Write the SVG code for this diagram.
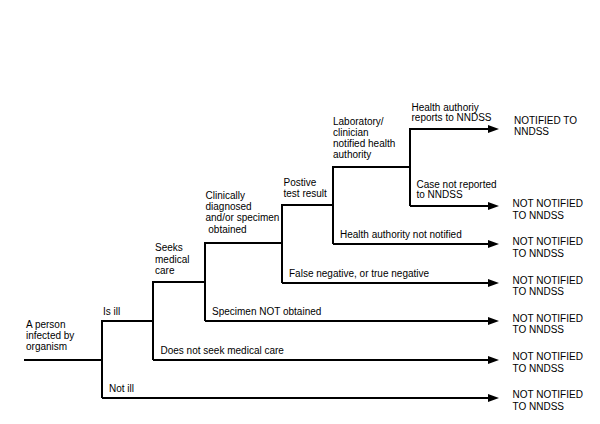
<svg xmlns="http://www.w3.org/2000/svg" width="600" height="424" viewBox="0 0 600 424">
<style>
text{font-family:"Liberation Sans",Arial,sans-serif;font-size:10px;fill:#000}
.c{fill:none;stroke:#000;stroke-width:2;stroke-linejoin:miter;stroke-linecap:butt}
</style>
<defs>
<marker id="ah" markerUnits="userSpaceOnUse" markerWidth="12" markerHeight="10" viewBox="0 0 12 10" refX="1" refY="5" orient="auto">
<path d="M0,1 L11,5 L0,9 z" fill="#000"/>
</marker>
</defs>
<rect width="600" height="424" fill="#fff"/>
<g id="connectors">
<path class="c" d="M24,360 H103"/>
<path class="c" d="M102,398 V321 H154"/>
<path class="c" d="M102,398 H489" marker-end="url(#ah)"/>
<path class="c" d="M153,360 V282 H206"/>
<path class="c" d="M153,360 H489" marker-end="url(#ah)"/>
<path class="c" d="M205,321 V243 H283"/>
<path class="c" d="M205,321 H489" marker-end="url(#ah)"/>
<path class="c" d="M282,283 V205 H334"/>
<path class="c" d="M282,283 H489" marker-end="url(#ah)"/>
<path class="c" d="M333,244 V167 H411"/>
<path class="c" d="M333,244 H489" marker-end="url(#ah)"/>
<path class="c" d="M410,206 V129 H489" marker-end="url(#ah)"/>
<path class="c" d="M410,206 H489" marker-end="url(#ah)"/>
</g>
<g id="n-person"><text x="26" y="327.5">A person<tspan x="26" dy="11">infected by</tspan><tspan x="26" dy="11">organism</tspan></text></g>
<g id="n-isill"><text x="103" y="314.5">Is ill</text></g>
<g id="n-notill"><text x="109" y="391.5">Not ill</text></g>
<g id="n-seeks"><text x="155" y="251">Seeks<tspan x="155" dy="11.5">medical</tspan><tspan x="155" dy="11.5">care</tspan></text></g>
<g id="n-noseek"><text x="160.5" y="353.5">Does not seek medical care</text></g>
<g id="n-clin"><text x="205.5" y="199">Clinically<tspan x="205.5" dy="11.2">diagnosed</tspan><tspan x="205.5" dy="11.2">and/or specimen</tspan><tspan x="205.5" dy="11.2"> obtained</tspan></text></g>
<g id="n-specnot"><text x="212" y="315">Specimen NOT obtained</text></g>
<g id="n-pos"><text x="283.5" y="186">Postive<tspan x="283.5" dy="11">test result</tspan></text></g>
<g id="n-falseneg"><text x="289" y="276.5">False negative, or true negative</text></g>
<g id="n-lab"><text x="333" y="125">Laboratory/<tspan x="333" dy="11">clinician</tspan><tspan x="333" dy="11">notified health</tspan><tspan x="333" dy="11">authority</tspan></text></g>
<g id="n-hanot"><text x="340" y="237.5">Health authority not notified</text></g>
<g id="n-hareports"><text x="411.5" y="110.5">Health authoriy<tspan x="411.5" dy="10.7">reports to NNDSS</tspan></text></g>
<g id="n-casenot"><text x="416.5" y="187.5">Case not reported<tspan x="416.5" dy="10.5">to NNDSS</tspan></text></g>
<g id="o1"><text x="514" y="123.5">NOTIFIED TO<tspan x="514" dy="11">NNDSS</tspan></text></g>
<g id="o2"><text x="512.5" y="207">NOT NOTIFIED<tspan x="512.5" dy="11.5">TO NNDSS</tspan></text></g>
<g id="o3"><text x="512.5" y="245">NOT NOTIFIED<tspan x="512.5" dy="12">TO NNDSS</tspan></text></g>
<g id="o4"><text x="512.5" y="283.5">NOT NOTIFIED<tspan x="512.5" dy="11.7">TO NNDSS</tspan></text></g>
<g id="o5"><text x="512.5" y="321.7">NOT NOTIFIED<tspan x="512.5" dy="11.7">TO NNDSS</tspan></text></g>
<g id="o6"><text x="512.5" y="360">NOT NOTIFIED<tspan x="512.5" dy="11.7">TO NNDSS</tspan></text></g>
<g id="o7"><text x="512.5" y="398.3">NOT NOTIFIED<tspan x="512.5" dy="11.7">TO NNDSS</tspan></text></g>
</svg>
